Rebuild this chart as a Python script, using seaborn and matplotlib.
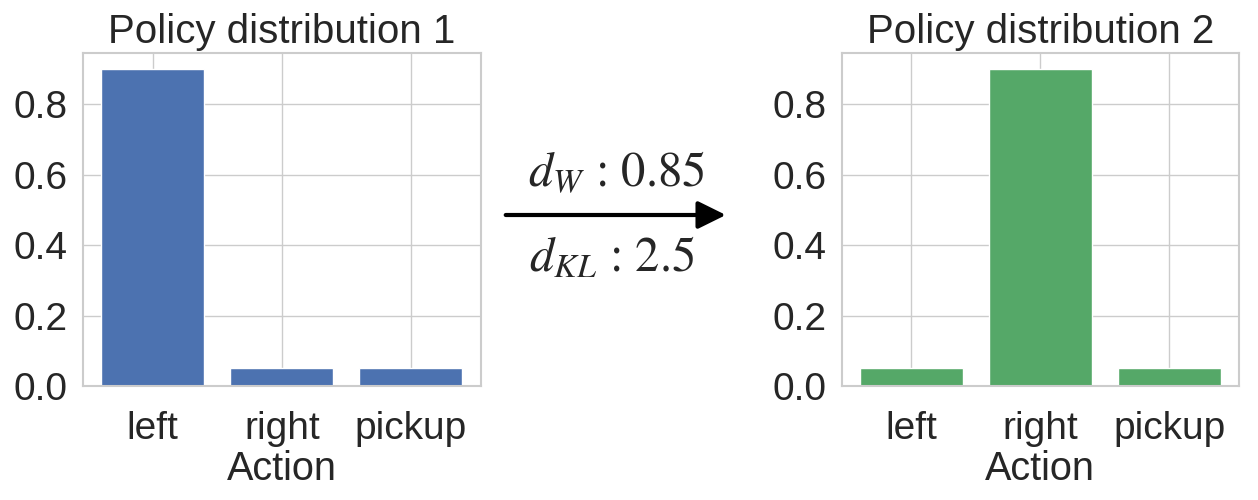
import numpy as np
import pandas as pd
import matplotlib
matplotlib.use('Agg')
import matplotlib.pyplot as plt
import seaborn as sns

# ==========================================
# data
# ==========================================
actions = ['left', 'right', 'pickup']
policy_1 = [0.9, 0.05, 0.05]
policy_2 = [0.05, 0.9, 0.05]
d_w = '0.85'
d_kl = '2.5'

sns.set_theme(style='whitegrid')
plt.rcParams['font.family'] = ['Liberation Sans', 'DejaVu Sans']
plt.rcParams['mathtext.fontset'] = 'stix'

deep = sns.color_palette('deep')

fig = plt.figure(figsize=(12.58, 5.0), dpi=100)
ax1 = fig.add_axes([0.066, 0.228, 0.316, 0.666])
ax2 = fig.add_axes([0.669, 0.228, 0.316, 0.666])

for ax, vals, col, title in [(ax1, policy_1, deep[0], 'Policy distribution 1'),
                             (ax2, policy_2, deep[2], 'Policy distribution 2')]:
    ax.bar(actions, vals, color=col, width=0.8, edgecolor='white', linewidth=1)
    ax.set_title(title, fontsize=29, color='#262626', pad=7)
    ax.set_yticks([0.0, 0.2, 0.4, 0.6, 0.8])
    ax.tick_params(axis='both', labelsize=28, colors='#262626')
    ax.tick_params(axis='x', pad=12)
    ax.tick_params(axis='y', pad=5)
    ax.set_xlabel('Action', fontsize=28.5, color='#262626', labelpad=2)
    for s in ax.spines.values():
        s.set_color('#cccccc')
        s.set_linewidth(1.5)

# 가운데 화살표와 거리 값
fig.text(0.490, 0.652, r'$d_W$ : ' + d_w, fontsize=35, ha='center', va='center',
         family='STIXGeneral')
fig.text(0.486, 0.480, r'$d_{KL}$ : ' + d_kl, fontsize=35, ha='center', va='center',
         family='STIXGeneral')
fig.add_artist(matplotlib.patches.FancyArrowPatch(
    (0.402, 0.570), (0.577, 0.570), transform=fig.transFigure,
    arrowstyle='-|>,head_length=0.85,head_width=0.42', mutation_scale=20,
    color='black', linewidth=3, shrinkA=0, shrinkB=0))

plt.savefig('out.png', dpi=100)
